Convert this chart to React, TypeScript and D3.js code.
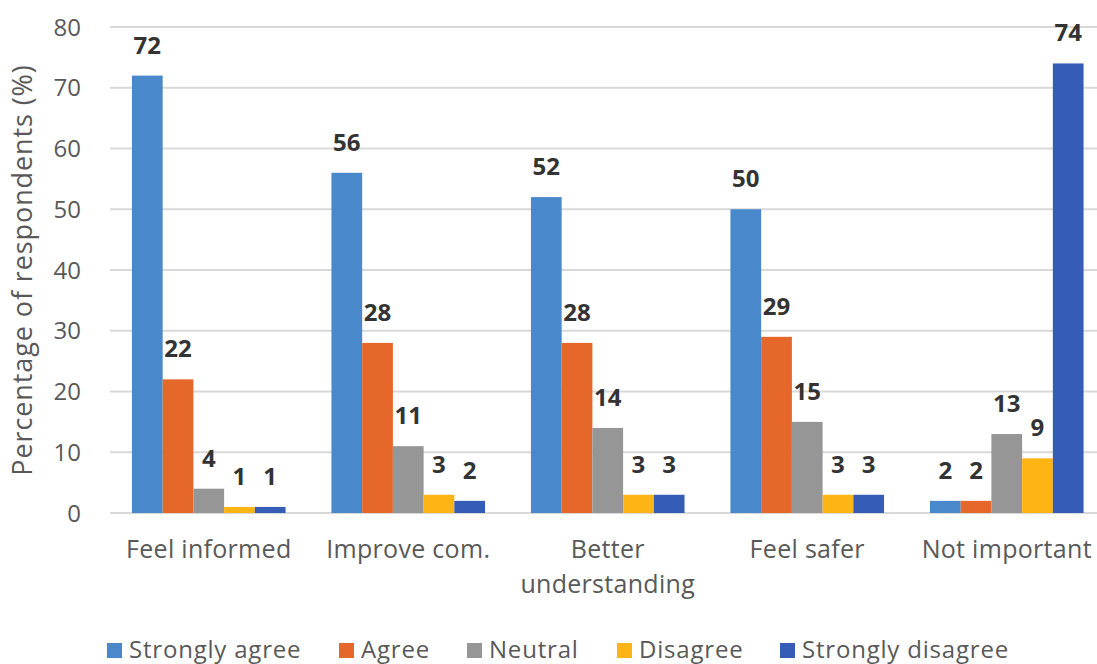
import React, { useEffect, useRef } from 'react';
import * as d3 from 'd3';

const categories = ['Feel informed', 'Improve com.', 'Better understanding', 'Feel safer', 'Not important'];
const categoryLines = [['Feel informed'], ['Improve com.'], ['Better', 'understanding'], ['Feel safer'], ['Not important']];
const seriesNames = ['Strongly agree', 'Agree', 'Neutral', 'Disagree', 'Strongly disagree'];
const stronglyAgree = [72, 56, 52, 50, 2];
const agree = [22, 28, 28, 29, 2];
const neutral = [4, 11, 14, 15, 13];
const disagree = [1, 3, 3, 3, 9];
const stronglyDisagree = [1, 2, 3, 3, 74];
const yTicks = [0, 10, 20, 30, 40, 50, 60, 70, 80];
const seriesColors = ['#4a88cc', '#e5682a', '#969696', '#fdb515', '#355db8'];

const W = 1097;
const H = 664;
const FONT = '"Open Sans", sans-serif';

export default function App() {
  const svgRef = useRef<SVGSVGElement>(null);

  useEffect(() => {
    document.body.style.margin = '0';
    if (!svgRef.current) return;
    const svg = d3.select(svgRef.current);
    svg.selectAll('*').remove();

    const values = [stronglyAgree, agree, neutral, disagree, stronglyDisagree];
    const rows = categories.map((c, ci) => ({
      cat: c,
      vals: seriesNames.map((s, si) => ({ key: s, value: values[si][ci], color: seriesColors[si] })),
    }));

    const x0 = d3.scaleBand<string>()
      .domain(categories)
      .range([109, 1106.5])
      .paddingInner(0.23)
      .paddingOuter(0.115);
    const x1 = d3.scaleBand<string>().domain(seriesNames).range([0, x0.bandwidth()]);
    const y = d3.scaleLinear().domain([0, 80]).range([513, 27]);

    // grid
    svg.append('g').selectAll('line').data(yTicks).enter().append('line')
      .attr('x1', 110).attr('x2', W)
      .attr('y1', d => y(d)).attr('y2', d => y(d))
      .attr('stroke', '#d9d9d9').attr('stroke-width', 2);

    // tick labels
    svg.append('g').selectAll('text').data(yTicks).enter().append('text')
      .attr('x', 81).attr('y', d => y(d)).attr('dy', '0.36em')
      .attr('text-anchor', 'end')
      .attr('font-family', FONT).attr('font-size', 24).attr('fill', '#595959')
      .text(d => d);

    // y title
    svg.append('text')
      .attr('transform', `translate(32,${(y(0) + y(80)) / 2}) rotate(-90)`)
      .attr('text-anchor', 'middle')
      .attr('font-family', FONT).attr('font-size', 27).attr('letter-spacing', 0.9).attr('fill', '#595959')
      .text('Percentage of respondents (%)');

    // bars
    const groups = svg.append('g').selectAll('g').data(rows).enter().append('g')
      .attr('transform', d => `translate(${x0(d.cat)},0)`);
    groups.selectAll('rect').data(d => d.vals).enter().append('rect')
      .attr('x', d => x1(d.key)!)
      .attr('width', x1.bandwidth())
      .attr('y', d => y(d.value))
      .attr('height', d => y(0) - y(d.value))
      .attr('fill', d => d.color);
    groups.selectAll('text').data(d => d.vals).enter().append('text')
      .attr('x', d => x1(d.key)! + x1.bandwidth() / 2)
      .attr('y', d => y(d.value) - 22)
      .attr('text-anchor', 'middle')
      .attr('font-family', FONT).attr('font-size', 24).attr('font-weight', 'bold').attr('fill', '#333333')
      .text(d => d.value);

    // category labels
    const catG = svg.append('g').selectAll('text').data(categories).enter().append('text')
      .attr('text-anchor', 'middle')
      .attr('font-family', FONT).attr('font-size', 25).attr('letter-spacing', 0.3).attr('fill', '#595959');
    catG.each(function (c, i) {
      const t = d3.select(this);
      categoryLines[i].forEach((line, li) => {
        t.append('tspan')
          .attr('x', x0(c)! + x0.bandwidth() / 2)
          .attr('y', 558 + li * 35)
          .text(line);
      });
    });

    // legend
    const legend = svg.append('g');
    const starts = [107, 339, 467, 617, 780];
    seriesNames.forEach((s, i) => {
      const g = legend.append('g').attr('transform', `translate(${starts[i]},0)`);
      g.append('rect').attr('x', 0).attr('y', 643).attr('width', 15).attr('height', 15).attr('fill', seriesColors[i]);
      g.append('text').attr('x', 22).attr('y', 658)
        .attr('font-family', FONT).attr('font-size', 24).attr('letter-spacing', 0.8).attr('fill', '#595959')
        .text(s);
    });
  }, []);

  return <svg ref={svgRef} width={W} height={H} style={{ display: 'block', background: '#fff' }} />;
}
